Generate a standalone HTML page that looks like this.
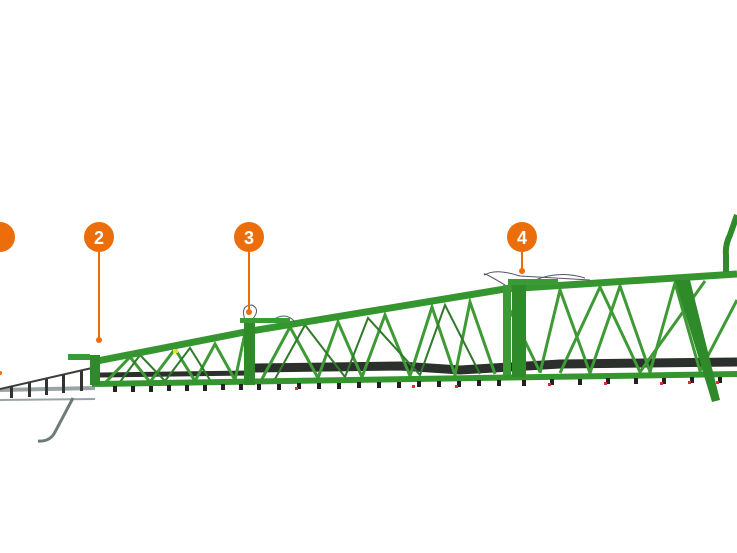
<!DOCTYPE html>
<html><head><meta charset="utf-8"><style>
html,body{margin:0;padding:0;background:#fff;width:737px;height:553px;overflow:hidden}
svg{display:block}
text{font-family:"Liberation Sans",sans-serif;font-weight:bold;fill:#fff}
</style></head><body>
<svg width="737" height="553" viewBox="0 0 737 553" xmlns="http://www.w3.org/2000/svg">
<!-- left silver section -->
<g stroke="#9aa3a5" fill="none">
<line x1="0" y1="390" x2="95" y2="388" stroke-width="4"/>
<line x1="0" y1="400" x2="95" y2="399" stroke-width="2"/>
<line x1="0" y1="389" x2="92" y2="368" stroke="#3a403a" stroke-width="2"/>
<path d="M73 398 L55 432 Q50 442 38 441" stroke="#6f7a7a" stroke-width="3"/>
</g>
<g fill="#333">
<rect x="10" y="386" width="3" height="12"/><rect x="28" y="383" width="3" height="14"/><rect x="45" y="379" width="3" height="16"/><rect x="62" y="375" width="3" height="18"/><rect x="80" y="371" width="3" height="20"/>
</g>
<!-- hoses -->
<path d="M255 368 L400 366 L460 370 L560 364 L737 362" stroke="#2c302c" stroke-width="9" fill="none"/>
<path d="M100 375 L250 373" stroke="#2c302c" stroke-width="5" fill="none"/>
<!-- diagonals -->
<g stroke="#3d9a35" stroke-width="3" fill="none">
<polyline points="105,383 130,357 150,382 175,349 195,381 215,344 235,380 245,333"/>
<polyline points="262,379 290,327 318,378 338,322 362,377 385,315 410,376 432,307 455,375 470,302 495,374"/>
<polyline points="540,373 560,290 590,373 620,286 650,372 675,283 700,371 737,300"/>
<polyline points="560,373 600,287 640,372 705,281"/>
<line x1="505" y1="300" x2="540" y2="372"/>
</g>
<g stroke="#2f7a2a" stroke-width="2" fill="none">
<polyline points="120,382 140,355 165,381 190,348 210,380"/>
<polyline points="275,379 305,325 345,377 368,318 420,375 445,305 480,374"/>
</g>
<!-- top beam -->
<polyline points="92,362 245,332 505,289 737,274" stroke="#35962f" stroke-width="7" fill="none" stroke-linejoin="round"/>
<!-- bottom beam -->
<line x1="92" y1="384" x2="737" y2="374" stroke="#35962f" stroke-width="6"/>
<!-- posts -->
<rect x="244" y="322" width="11" height="63" fill="#2f8b2a"/>
<rect x="512" y="283" width="14" height="94" fill="#2f8b2a"/>
<rect x="503" y="285" width="8" height="90" fill="#3a9a33"/>
<polygon points="675,280 690,280 720,400 712,402" fill="#2f8b2a"/>
<rect x="90" y="355" width="10" height="30" fill="#2f8b2a"/>
<rect x="68" y="354" width="22" height="6" fill="#3a9a33"/>
<!-- right arm -->
<path d="M726 272 L726 255 Q725 245 730 235 L737 215" stroke="#2f8b2a" stroke-width="6" fill="none"/>
<!-- hardware on top -->
<g stroke="#556" stroke-width="1" fill="none">
<path d="M245 320 Q240 305 252 305 Q262 310 250 322"/>
<path d="M270 322 Q285 310 295 322"/>
<path d="M505 285 Q480 270 485 275 Q495 268 520 276 L590 280"/>
<path d="M535 280 Q560 270 585 278"/>
</g>
<rect x="240" y="318" width="50" height="5" fill="#3a9a33"/>
<rect x="508" y="279" width="50" height="6" fill="#3a9a33"/>
<rect x="173" y="349" width="5" height="4" fill="#e8e020"/>
<!-- nozzles -->
<g id="nz">
</g>
<g fill="#222">
<rect x="113" y="386" width="4" height="6"/><rect x="131" y="386" width="4" height="6"/><rect x="149" y="386" width="4" height="6"/><rect x="167" y="385" width="4" height="6"/><rect x="185" y="385" width="4" height="6"/><rect x="203" y="385" width="4" height="6"/><rect x="221" y="384" width="4" height="6"/><rect x="239" y="384" width="4" height="6"/><rect x="257" y="384" width="4" height="6"/><rect x="277" y="384" width="4" height="6"/><rect x="297" y="383" width="4" height="6"/><rect x="317" y="383" width="4" height="6"/><rect x="337" y="383" width="4" height="6"/><rect x="357" y="382" width="4" height="6"/><rect x="377" y="382" width="4" height="6"/><rect x="397" y="382" width="4" height="6"/><rect x="417" y="381" width="4" height="6"/><rect x="437" y="381" width="4" height="6"/><rect x="457" y="381" width="4" height="6"/><rect x="477" y="380" width="4" height="6"/><rect x="497" y="380" width="4" height="6"/><rect x="522" y="380" width="4" height="6"/><rect x="550" y="379" width="4" height="6"/><rect x="578" y="379" width="4" height="6"/><rect x="606" y="378" width="4" height="6"/><rect x="634" y="378" width="4" height="6"/><rect x="662" y="378" width="4" height="6"/><rect x="690" y="377" width="4" height="6"/><rect x="718" y="377" width="4" height="6"/>
</g>
<g fill="#d83030">
<rect x="412" y="385" width="3" height="3"/><rect x="455" y="385" width="3" height="3"/><rect x="548" y="383" width="3" height="3"/><rect x="604" y="382" width="3" height="3"/><rect x="660" y="382" width="3" height="3"/><rect x="688" y="381" width="3" height="3"/><rect x="716" y="381" width="3" height="3"/><rect x="295" y="387" width="3" height="3"/>
</g>
<!-- markers -->
<g stroke="#ec6e0a" stroke-width="2">
<line x1="99" y1="250" x2="99" y2="340"/>
<line x1="249" y1="250" x2="249" y2="312"/>
<line x1="522" y1="250" x2="522" y2="271"/>
</g>
<g fill="#ec6e0a">
<circle cx="0" cy="237" r="15"/>
<circle cx="99" cy="237" r="15"/>
<circle cx="249" cy="237" r="15"/>
<circle cx="522" cy="237" r="15"/>
<circle cx="99" cy="340" r="3"/>
<circle cx="249" cy="312" r="3"/>
<circle cx="522" cy="271" r="3"/>
<circle cx="0" cy="373" r="2"/>
</g>
<text x="99" y="244" font-size="18" text-anchor="middle">2</text>
<text x="249" y="244" font-size="18" text-anchor="middle">3</text>
<text x="522" y="244" font-size="18" text-anchor="middle">4</text>
</svg>
</body></html>
